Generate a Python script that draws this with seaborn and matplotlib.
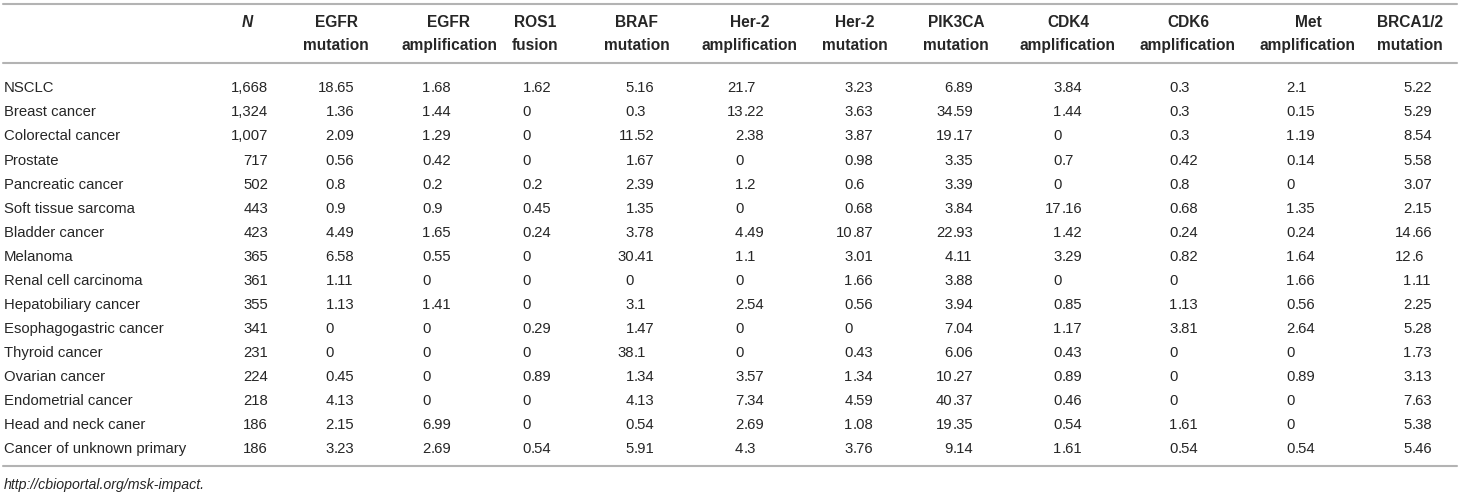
import matplotlib
matplotlib.use("Agg")
import matplotlib.pyplot as plt
import seaborn as sns
import pandas as pd

# ---------------- data ----------------
cancer_types = [
    "NSCLC", "Breast cancer", "Colorectal cancer", "Prostate", "Pancreatic cancer",
    "Soft tissue sarcoma", "Bladder cancer", "Melanoma", "Renal cell carcinoma",
    "Hepatobiliary cancer", "Esophagogastric cancer", "Thyroid cancer",
    "Ovarian cancer", "Endometrial cancer", "Head and neck caner",
    "Cancer of unknown primary",
]
n_patients = [1668, 1324, 1007, 717, 502, 443, 423, 365, 361, 355, 341, 231, 224, 218, 186, 186]

egfr_mutation = [18.65, 1.36, 2.09, 0.56, 0.8, 0.9, 4.49, 6.58, 1.11, 1.13, 0, 0, 0.45, 4.13, 2.15, 3.23]
egfr_amplification = [1.68, 1.44, 1.29, 0.42, 0.2, 0.9, 1.65, 0.55, 0, 1.41, 0, 0, 0, 0, 6.99, 2.69]
ros1_fusion = [1.62, 0, 0, 0, 0.2, 0.45, 0.24, 0, 0, 0, 0.29, 0, 0.89, 0, 0, 0.54]
braf_mutation = [5.16, 0.3, 11.52, 1.67, 2.39, 1.35, 3.78, 30.41, 0, 3.1, 1.47, 38.1, 1.34, 4.13, 0.54, 5.91]
her2_amplification = [21.7, 13.22, 2.38, 0, 1.2, 0, 4.49, 1.1, 0, 2.54, 0, 0, 3.57, 7.34, 2.69, 4.3]
her2_mutation = [3.23, 3.63, 3.87, 0.98, 0.6, 0.68, 10.87, 3.01, 1.66, 0.56, 0, 0.43, 1.34, 4.59, 1.08, 3.76]
pik3ca_mutation = [6.89, 34.59, 19.17, 3.35, 3.39, 3.84, 22.93, 4.11, 3.88, 3.94, 7.04, 6.06, 10.27, 40.37, 19.35, 9.14]
cdk4_amplification = [3.84, 1.44, 0, 0.7, 0, 17.16, 1.42, 3.29, 0, 0.85, 1.17, 0.43, 0.89, 0.46, 0.54, 1.61]
cdk6_amplification = [0.3, 0.3, 0.3, 0.42, 0.8, 0.68, 0.24, 0.82, 0, 1.13, 3.81, 0, 0, 0, 1.61, 0.54]
met_amplification = [2.1, 0.15, 1.19, 0.14, 0, 1.35, 0.24, 1.64, 1.66, 0.56, 2.64, 0, 0.89, 0, 0, 0.54]
brca_mutation = [5.22, 5.29, 8.54, 5.58, 3.07, 2.15, 14.66, 12.6, 1.11, 2.25, 5.28, 1.73, 3.13, 7.63, 5.38, 5.46]

headers = [
    "N", "EGFR\nmutation", "EGFR\namplification", "ROS1\nfusion", "BRAF\nmutation",
    "Her-2\namplification", "Her-2\nmutation", "PIK3CA\nmutation", "CDK4\namplification",
    "CDK6\namplification", "Met\namplification", "BRCA1/2\nmutation",
]
footnote = "http://cbioportal.org/msk-impact."

df = pd.DataFrame({
    "N": n_patients,
    "EGFR mutation": egfr_mutation,
    "EGFR amplification": egfr_amplification,
    "ROS1 fusion": ros1_fusion,
    "BRAF mutation": braf_mutation,
    "Her-2 amplification": her2_amplification,
    "Her-2 mutation": her2_mutation,
    "PIK3CA mutation": pik3ca_mutation,
    "CDK4 amplification": cdk4_amplification,
    "CDK6 amplification": cdk6_amplification,
    "Met amplification": met_amplification,
    "BRCA1/2 mutation": brca_mutation,
}, index=cancer_types)

# ---------------- layout (pixels) ----------------
W, H = 1460, 496
header_centers = [247, 336, 449, 535, 637, 750, 855, 956, 1068, 1188, 1308, 1410]
decimal_x = [268, 334, 430.6, 531, 634, 743.3, 852.6, 952.6, 1061.6, 1177.6, 1294.3, 1411.6]
row0, row_step = 87.0, 24.07
cap_half = 5.3

sns.set_theme(style="white")
plt.rcParams["font.family"] = ["Liberation Sans", "DejaVu Sans"]

fig = plt.figure(figsize=(W / 100, H / 100), dpi=100)
ax = fig.add_axes([0, 0, 1, 1])
ax.set_xlim(0, W)
ax.set_ylim(H, 0)
ax.set_axis_off()

text_color = "#262626"
rule_color = "#b3b3b3"
fs = 10.7
fs_head = 11.2

# rules
for y in (4, 63, 466):
    ax.axhline(y, xmin=0.002, xmax=0.998, color=rule_color, lw=1.5)

# header
for cx, h in zip(header_centers, headers):
    lines = h.split("\n")
    for li, line in enumerate(lines):
        ax.text(cx, 27 + li * 23, line, ha="center", va="baseline",
                fontsize=fs_head, fontweight="bold", color=text_color,
                style="italic" if line == "N" else "normal")

# body
for r, name in enumerate(df.index):
    yb = row0 + r * row_step + cap_half
    ax.text(4, yb, name, ha="left", va="baseline", fontsize=fs, color=text_color)
    for c, col in enumerate(df.columns):
        v = df.loc[name, col]
        if col == "N":
            s = f"{int(v):,}"
            ax.text(decimal_x[c], yb, s, ha="right", va="baseline", fontsize=fs, color=text_color)
            continue
        s = f"{v:g}"
        if "." in s:
            ip, fp = s.split(".")
            ax.text(decimal_x[c], yb, ip, ha="right", va="baseline", fontsize=fs, color=text_color)
            ax.text(decimal_x[c], yb, "." + fp, ha="left", va="baseline", fontsize=fs, color=text_color)
        else:
            ax.text(decimal_x[c], yb, s, ha="right", va="baseline", fontsize=fs, color=text_color)

ax.text(4, 484 + cap_half, footnote, ha="left", va="baseline", fontsize=fs * 0.95,
        style="italic", color=text_color)

fig.savefig("out.png", dpi=100, facecolor="white")
